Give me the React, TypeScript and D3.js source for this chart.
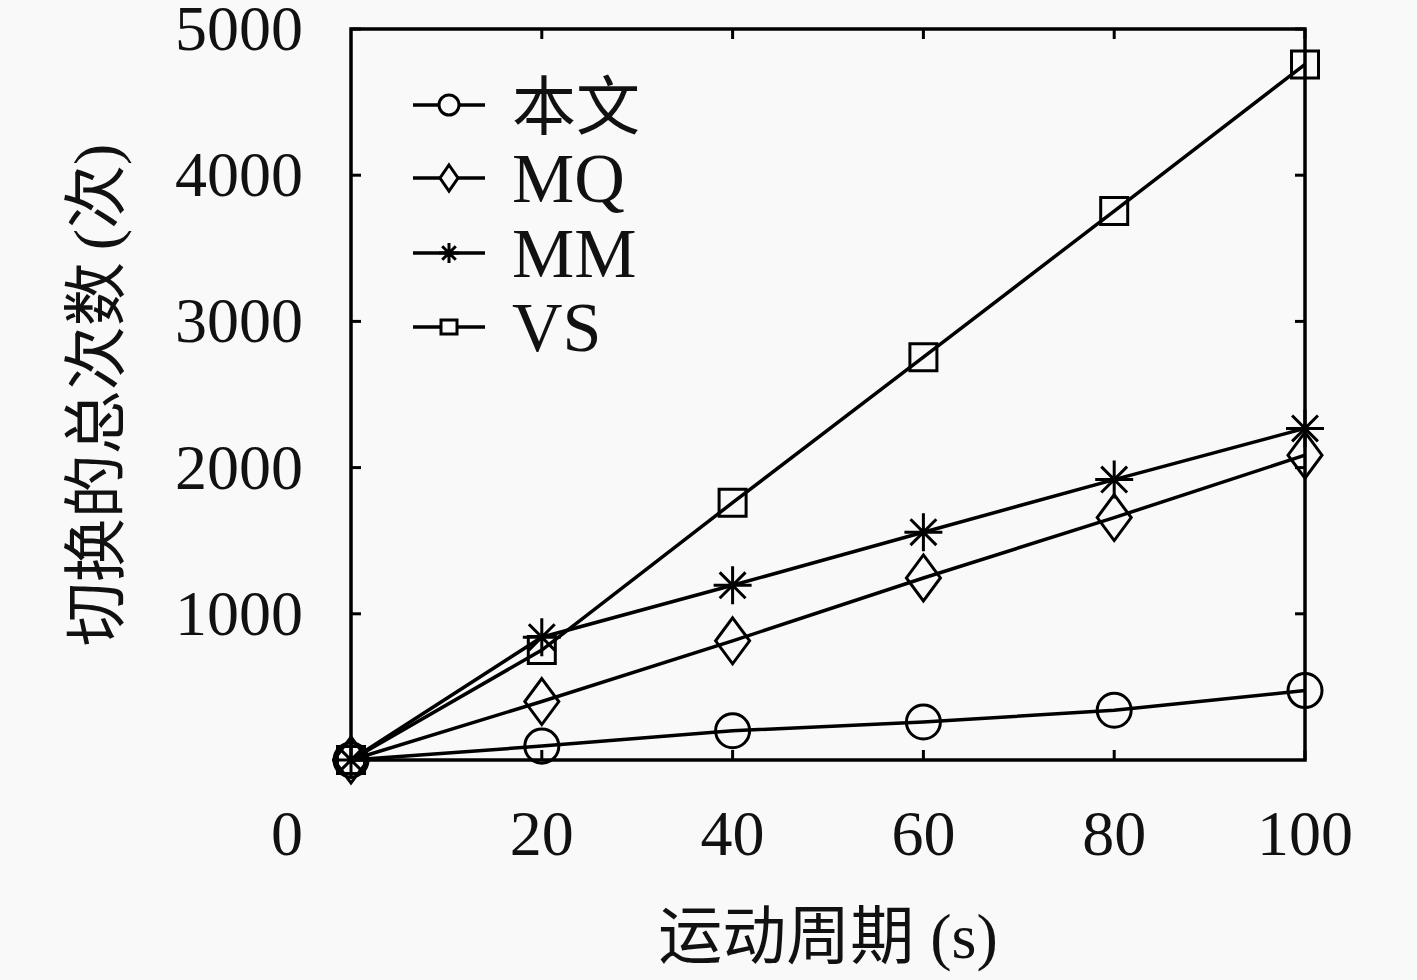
import React from "react";
import * as d3 from "d3";

const periods = [0, 20, 40, 60, 80, 100];
const seriesNames = ["本文", "MQ", "MM", "VS"];
const benwen = [0, 95, 200, 260, 340, 475];
const mq = [0, 400, 815, 1245, 1658, 2085];
const mm = [0, 840, 1195, 1558, 1918, 2268];
const vs = [0, 752, 1760, 2755, 3755, 4758];
const xTicks = [20, 40, 60, 80, 100];
const yTicks = [1000, 2000, 3000, 4000, 5000];
const markerTypes = ["circle", "diamond", "asterisk", "square"];

const W = 1417;
const H = 980;
const L = 351, R = 1305, T = 29, B = 760;

const x = d3.scaleLinear().domain([0, 100]).range([L, R]);
const y = d3.scaleLinear().domain([0, 5000]).range([B, T]);

function markerPath(type: string, cx: number, cy: number, big: boolean): string {
  const p = d3.path();
  if (type === "circle") {
    const r = big ? 17 : 10;
    p.moveTo(cx + r, cy);
    p.arc(cx, cy, r, 0, Math.PI * 2);
  } else if (type === "diamond") {
    const w = big ? 17 : 9, h = big ? 23 : 13;
    p.moveTo(cx, cy - h);
    p.lineTo(cx + w, cy);
    p.lineTo(cx, cy + h);
    p.lineTo(cx - w, cy);
    p.closePath();
  } else if (type === "asterisk") {
    const r = big ? 19 : 10;
    const d = r * 0.68;
    p.moveTo(cx, cy - r); p.lineTo(cx, cy + r);
    p.moveTo(cx - r, cy); p.lineTo(cx + r, cy);
    p.moveTo(cx - d, cy - d); p.lineTo(cx + d, cy + d);
    p.moveTo(cx - d, cy + d); p.lineTo(cx + d, cy - d);
  } else {
    const w = big ? 13.5 : 8, h = big ? 13.5 : 7;
    p.rect(cx - w, cy - h, 2 * w, 2 * h);
  }
  return p.toString();
}

export default function App() {
  const data = [benwen, mq, mm, vs];
  const line = d3
    .line<number>()
    .x((_, i) => x(periods[i]))
    .y((d) => y(d));
  const serif = "'Liberation Serif', 'Noto Sans CJK SC', serif";
  const cjk = "'Noto Sans CJK SC', sans-serif";
  const legendY = [105, 178, 253, 327];
  return (
    <svg
      width={W}
      height={H}
      style={{ position: "fixed", left: 0, top: 0, background: "#f9f9f9" }}
    >
      <rect x={0} y={0} width={W} height={H} fill="#f9f9f9" />
      {/* ticks */}
      {xTicks.map((t) => (
        <g key={"xt" + t}>
          <line x1={x(t)} x2={x(t)} y1={B} y2={B - 10} stroke="#000" strokeWidth={3} />
          <line x1={x(t)} x2={x(t)} y1={T} y2={T + 10} stroke="#000" strokeWidth={3} />
          <text x={x(t)} y={855} fontFamily={serif} fontSize={64} textAnchor="middle" fill="#111">
            {t}
          </text>
        </g>
      ))}
      {yTicks.map((t) => (
        <g key={"yt" + t}>
          <line x1={L} x2={L + 10} y1={y(t)} y2={y(t)} stroke="#000" strokeWidth={3} />
          <line x1={R} x2={R - 10} y1={y(t)} y2={y(t)} stroke="#000" strokeWidth={3} />
          <text x={303} y={y(t) + 21} fontFamily={serif} fontSize={64} textAnchor="end" fill="#111">
            {t}
          </text>
        </g>
      ))}
      <text x={303} y={855} fontFamily={serif} fontSize={64} textAnchor="end" fill="#111">
        0
      </text>
      {/* frame */}
      <rect x={L} y={T} width={R - L} height={B - T} fill="none" stroke="#000" strokeWidth={3.5} />
      {/* series */}
      {data.map((s, k) => (
        <g key={"s" + k}>
          <path d={line(s) || ""} fill="none" stroke="#000" strokeWidth={3.5} />
          {s.map((v, i) => (
            <path
              key={i}
              d={markerPath(markerTypes[k], x(periods[i]), y(v), true)}
              fill="none"
              stroke="#000"
              strokeWidth={3}
            />
          ))}
        </g>
      ))}
      {/* legend */}
      {seriesNames.map((n, k) => (
        <g key={"lg" + k}>
          <line x1={413} x2={485} y1={legendY[k]} y2={legendY[k]} stroke="#000" strokeWidth={3.5} />
          <path d={markerPath(markerTypes[k], 449, legendY[k], false)} fill="#f9f9f9" stroke="#000" strokeWidth={3} />
          <text
            x={512}
            y={legendY[k] + 24}
            fontFamily={k === 0 ? cjk : serif}
            fontSize={k === 0 ? 64 : 70}
            fill="#111"
          >
            {n}
          </text>
        </g>
      ))}
      {/* axis labels */}
      <text x={828} y={958} textAnchor="middle" fill="#111" fontSize={64}>
        <tspan fontFamily={cjk}>运动周期</tspan>
        <tspan fontFamily={serif} dx={16}>(s)</tspan>
      </text>
      <text
        transform="translate(118,395) rotate(-90)"
        textAnchor="middle"
        fill="#111"
        fontSize={64}
      >
        <tspan fontFamily={cjk}>切换的总次数</tspan>
        <tspan fontFamily={serif} dx={12}>(</tspan>
        <tspan fontFamily={cjk}>次</tspan>
        <tspan fontFamily={serif}>)</tspan>
      </text>
    </svg>
  );
}
